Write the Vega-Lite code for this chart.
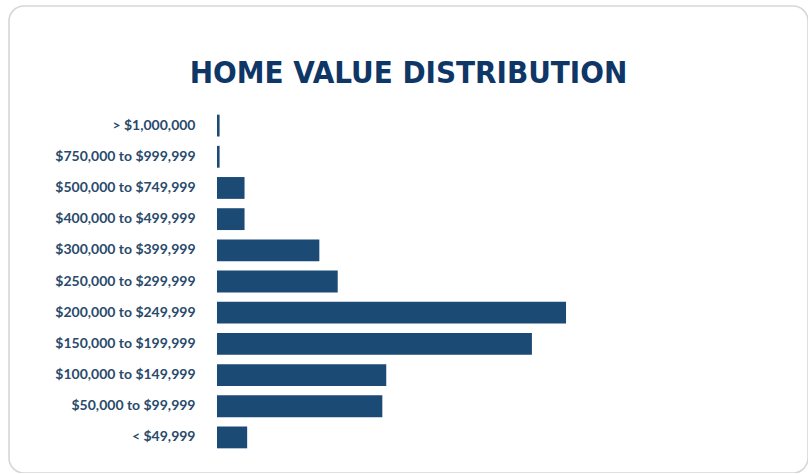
{
  "$schema": "https://vega.github.io/schema/vega-lite/v6.json",
  "autosize": {"type": "none"},
  "padding": {"left": 9, "top": 6, "right": 0, "bottom": 0},
  "width": 799,
  "height": 467,
  "background": "white",
  "config": {
    "view": {"stroke": "#d6d6d6", "strokeWidth": 1.6, "cornerRadius": 15, "fill": "white"}
  },
  "title": {
    "text": "HOME VALUE DISTRIBUTION",
    "font": "'DejaVu Sans Condensed', serif",
    "fontSize": 31,
    "fontWeight": "bold",
    "color": "#0e3666",
    "anchor": "middle",
    "frame": "group",
    "baseline": "alphabetic",
    "offset": -108
  },
  "data": {
    "values": [
      {"range": "> $1,000,000", "pct": 0.2},
      {"range": "$750,000 to $999,999", "pct": 0.2},
      {"range": "$500,000 to $749,999", "pct": 2.1},
      {"range": "$400,000 to $499,999", "pct": 2.1},
      {"range": "$300,000 to $399,999", "pct": 7.8},
      {"range": "$250,000 to $299,999", "pct": 9.2},
      {"range": "$200,000 to $249,999", "pct": 26.6},
      {"range": "$150,000 to $199,999", "pct": 24.0},
      {"range": "$100,000 to $149,999", "pct": 12.9},
      {"range": "$50,000 to $99,999", "pct": 12.6},
      {"range": "< $49,999", "pct": 2.3}
    ]
  },
  "mark": {"type": "bar", "color": "#1b4a74"},
  "encoding": {
    "y": {
      "field": "range",
      "type": "nominal",
      "sort": null,
      "scale": {"paddingInner": 0.3, "paddingOuter": 0.15, "range": [104, 447]},
      "axis": {
        "title": null,
        "orient": "left",
        "offset": -188,
        "ticks": false,
        "domain": false,
        "grid": false,
        "labelPadding": 2,
        "labelFont": "Lato",
        "labelFontWeight": "bold",
        "labelFontSize": 14,
        "labelColor": "#2a4a6b",
        "labelLimit": 300
      }
    },
    "x": {
      "field": "pct",
      "type": "quantitative",
      "scale": {"domain": [-15.85, 45.04], "nice": false, "zero": false},
      "axis": null
    },
    "tooltip": [{"field": "range"}, {"field": "pct"}]
  }
}
